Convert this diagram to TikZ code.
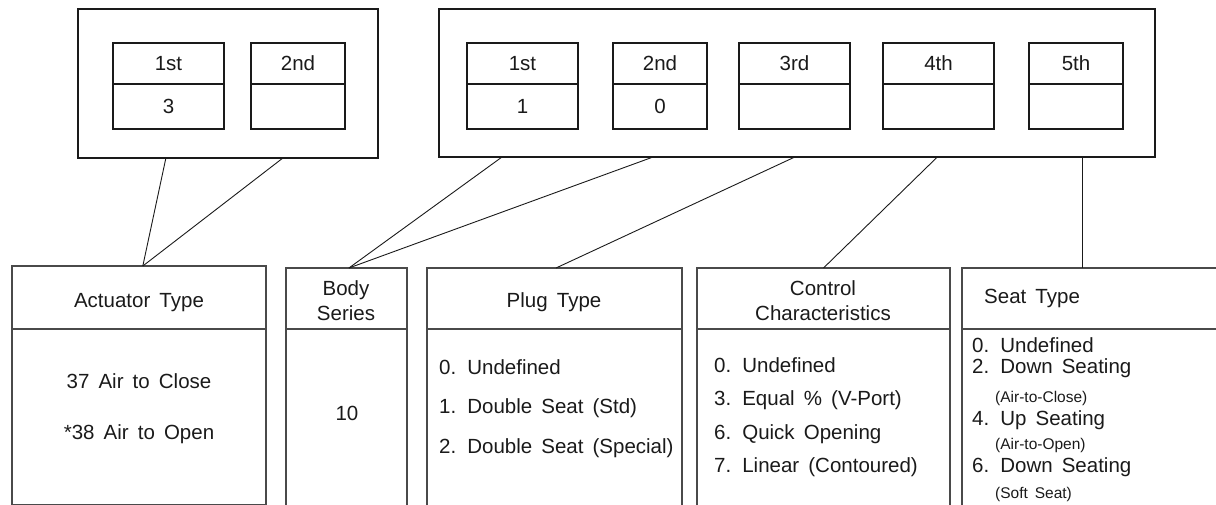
\documentclass[tikz,border=0pt]{standalone}
\usepackage{fontspec}
\setmainfont[WordSpace=1.6]{Liberation Sans}
\usepackage{xcolor}
\usepackage{tikz}
\usetikzlibrary{calc,positioning}
\definecolor{ink}{HTML}{1A1A1A}
\definecolor{rule}{HTML}{4A4A4A}
\tikzset{
  grp/.style={draw=ink, line width=2.4pt, inner sep=0pt, outer sep=0pt},
  cell/.style={draw=ink, line width=1.2pt, inner sep=0pt, outer sep=0pt, text=ink, font=\fontsize{20.5}{24}\selectfont},
  card/.style={draw=rule, line width=1.3pt, anchor=north west, inner sep=0pt, outer sep=0pt},
  link/.style={draw=ink, line width=0.9pt},
  lab/.style={text=ink, font=\fontsize{20.5}{25}\selectfont, inner sep=0pt},
  note/.style={text=ink, font=\fontsize{15.5}{17}\selectfont, inner sep=0pt},
}
\begin{document}
\begin{tikzpicture}[x=1pt, y=-1pt]
\path[use as bounding box, clip] (0,0) rectangle (1216,505);

% code groups
\node[grp, minimum width=300pt, minimum height=149pt] (grpA) at (228,83.5) {};
\node[grp, minimum width=716pt, minimum height=148pt] (grpB) at (797,83) {};
\foreach \n/\x/\w/\t/\v in {a1/168.5/111/1st/3, a2/298/94/2nd/{}, b1/522.5/111/1st/1, b2/660/94/2nd/0,
    b3/794.5/111/3rd/{}, b4/938.5/111/4th/{}, b5/1076/94/5th/{}} {
  \node[cell, minimum width=\w pt, minimum height=41pt] (\n-h) at (\x,63.5) {\t};
  \node[cell, minimum width=\w pt, minimum height=45pt, below=0pt of \n-h] (\n-v) {\v};
}

% description cards
\node[card, minimum width=254pt, minimum height=239pt] (act) at (12,266) {};
\node[card, minimum width=121pt, minimum height=262pt] (body) at (286,268) {};
\node[card, minimum width=255pt, minimum height=262pt] (plug) at (427,268) {};
\node[card, minimum width=253pt, minimum height=262pt] (ctrl) at (697,268) {};
\node[card, minimum width=280pt, minimum height=262pt] (seat) at (962,268) {};
\foreach \c in {act,body,plug,ctrl,seat}
  \draw[draw=rule, line width=1.3pt] (\c.west |- 0,329) -- (\c.east |- 0,329);

\draw[link] ($(grpA.south west)!0.293!(grpA.south east)$) -- ($(act.north west)!0.515!(act.north east)$);
\draw[link] ($(grpA.south west)!0.683!(grpA.south east)$) -- ($(act.north west)!0.515!(act.north east)$);
\draw[link] ($(grpB.south west)!0.088!(grpB.south east)$) -- ($(body.north west)!0.52!(body.north east)$);
\draw[link] ($(grpB.south west)!0.299!(grpB.south east)$) -- ($(body.north west)!0.52!(body.north east)$);
\draw[link] ($(grpB.south west)!0.497!(grpB.south east)$) -- ($(plug.north west)!0.506!(plug.north east)$);
\draw[link] ($(grpB.south west)!0.696!(grpB.south east)$) -- (ctrl.north);
\draw[link] ($(grpB.south west)!0.898!(grpB.south east)$) coordinate (g5) -- (g5 |- seat.north);

% titles
\node[lab, anchor=base] (actT) at (139,308) {Actuator Type};
\node[lab, align=center] (bodyT) at (346,301) {Body\\Series};
\node[lab, anchor=base] (plugT) at (554,307) {Plug Type};
\node[lab, align=center] (ctrlT) at (823,301) {Control\\Characteristics};
\node[lab, anchor=base west] (seatT) at (984,303) {Seat Type};

% entries
\node[lab, anchor=base] (act1) at (139,388) {37 Air to Close};
\node[lab, anchor=base] (act2) at (139,439) {*38 Air to Open};
\node[lab, anchor=base] (bodyV) at (347,420) {10};
\foreach \y/\t [count=\i] in {374/0. Undefined, 413/1. Double Seat (Std), 453/2. Double Seat (Special)}
  \node[lab, anchor=base west] (plug\i) at (439,\y) {\t};
\foreach \y/\t [count=\i] in {372/0. Undefined, 405/3. Equal \% (V-Port), 439/6. Quick Opening, 472/7. Linear (Contoured)}
  \node[lab, anchor=base west] (ctrl\i) at (714,\y) {\t};
\foreach \y/\t [count=\i] in {352/0. Undefined, 373/2. Down Seating, 425/4. Up Seating, 472/6. Down Seating}
  \node[lab, anchor=base west] (seat\i) at (972,\y) {\t};
\foreach \y/\t [count=\i] in {402/(Air-to-Close), 449/(Air-to-Open), 498/(Soft Seat)}
  \node[note, anchor=base west] (seatN\i) at (995,\y) {\t};
\end{tikzpicture}
\end{document}
